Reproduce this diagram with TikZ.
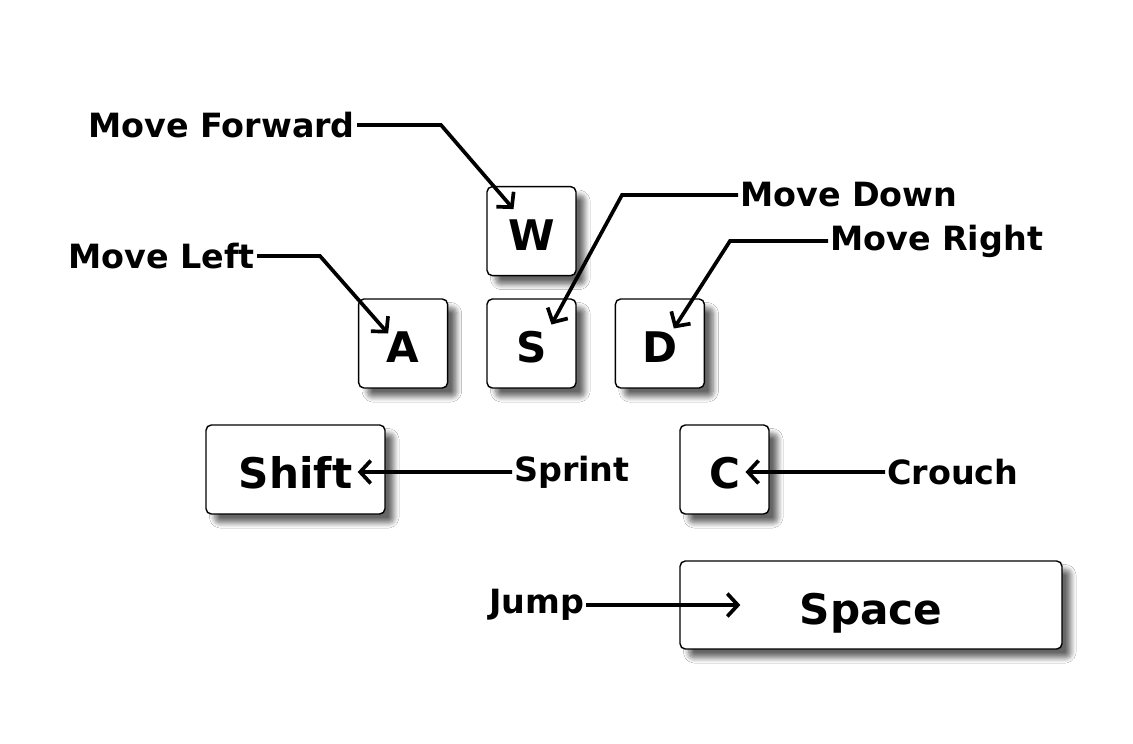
\documentclass[tikz,border=0pt]{standalone}
\usepackage{fontspec}
\setmainfont{DejaVu Sans}
\usetikzlibrary{positioning, calc, arrows.meta, shadows.blur}
\tikzset{
  key/.style={draw, line width=0.8pt, rounded corners=3pt, fill=white,
    minimum size=1.78cm, text height=22pt, text depth=0pt,
    font=\fontsize{24}{28}\selectfont\bfseries,
    blur shadow={shadow xshift=5pt, shadow yshift=-5pt, shadow blur radius=3pt,
      shadow blur steps=8, shadow opacity=60}},
  action/.style={font=\fontsize{19}{23}\selectfont\bfseries, inner sep=1pt},
  hint/.style={-{Straight Barb[length=6pt,width=13pt]}, line width=2.1pt},
  x=0.02cm, y=-0.02cm, node distance=0.76cm
}
\begin{document}
\begin{tikzpicture}
  \useasboundingbox[fill=white] (0,0) rectangle (1133,744);

  % movement keys
  \node[key] (S) at (531.5,343.5) {S};
  \node[key, left=of S] (A) {A};
  \node[key, right=of S] (D) {D};
  \node[key, above=0.44cm of S] (W) {W};

  % other keys
  \node[key, minimum width=3.58cm] (Shift) at (295.5,469.5) {Shift};
  \node[key] (C) at (724.5,469.5) {C};
  \node[key, minimum width=7.64cm, minimum height=1.76cm] (Space) at (871,605) {Space};

  % actions
  \node[action, anchor=east] (forward) at (357,125) {Move Forward};
  \node[action, anchor=east] (left) at (257,256) {Move Left};
  \node[action, anchor=west] (down) at (738,195) {Move Down};
  \node[action, anchor=west] (right) at (828,241) {Move Right};
  \node[action, anchor=west] (sprint) at (512,472) {Sprint};
  \node[action, anchor=west] (crouch) at (885,472) {Crouch};
  \node[action, anchor=east] (jump) at (586,605) {Jump};

  \coordinate (wTip) at ($(W)+(-18,-22)$);
  \coordinate (aTip) at ($(A)+(-15,-10)$);
  \coordinate (sTip) at ($(S)+(20,-19)$);
  \coordinate (dTip) at ($(D)+(14,-15)$);
  \coordinate (shiftTip) at ($(Shift.east)+(-28,2.5)$);
  \coordinate (cTip) at ($(C)+(21,2.5)$);
  \coordinate (spaceTip) at ($(Space.west)+(61,0)$);

  \draw[hint] (forward.east) -- ++(84,0) -- (wTip);
  \draw[hint] (left.east) -- ++(63,0) -- (aTip);
  \draw[hint] (down.west) -- ++(-116,0) -- (sTip);
  \draw[hint] (right.west) -- ++(-98,0) -- (dTip);
  \draw[hint] (sprint.west) -- (shiftTip);
  \draw[hint] (crouch.west) -- (cTip);
  \draw[hint] (jump.east) -- (spaceTip);
\end{tikzpicture}
\end{document}
